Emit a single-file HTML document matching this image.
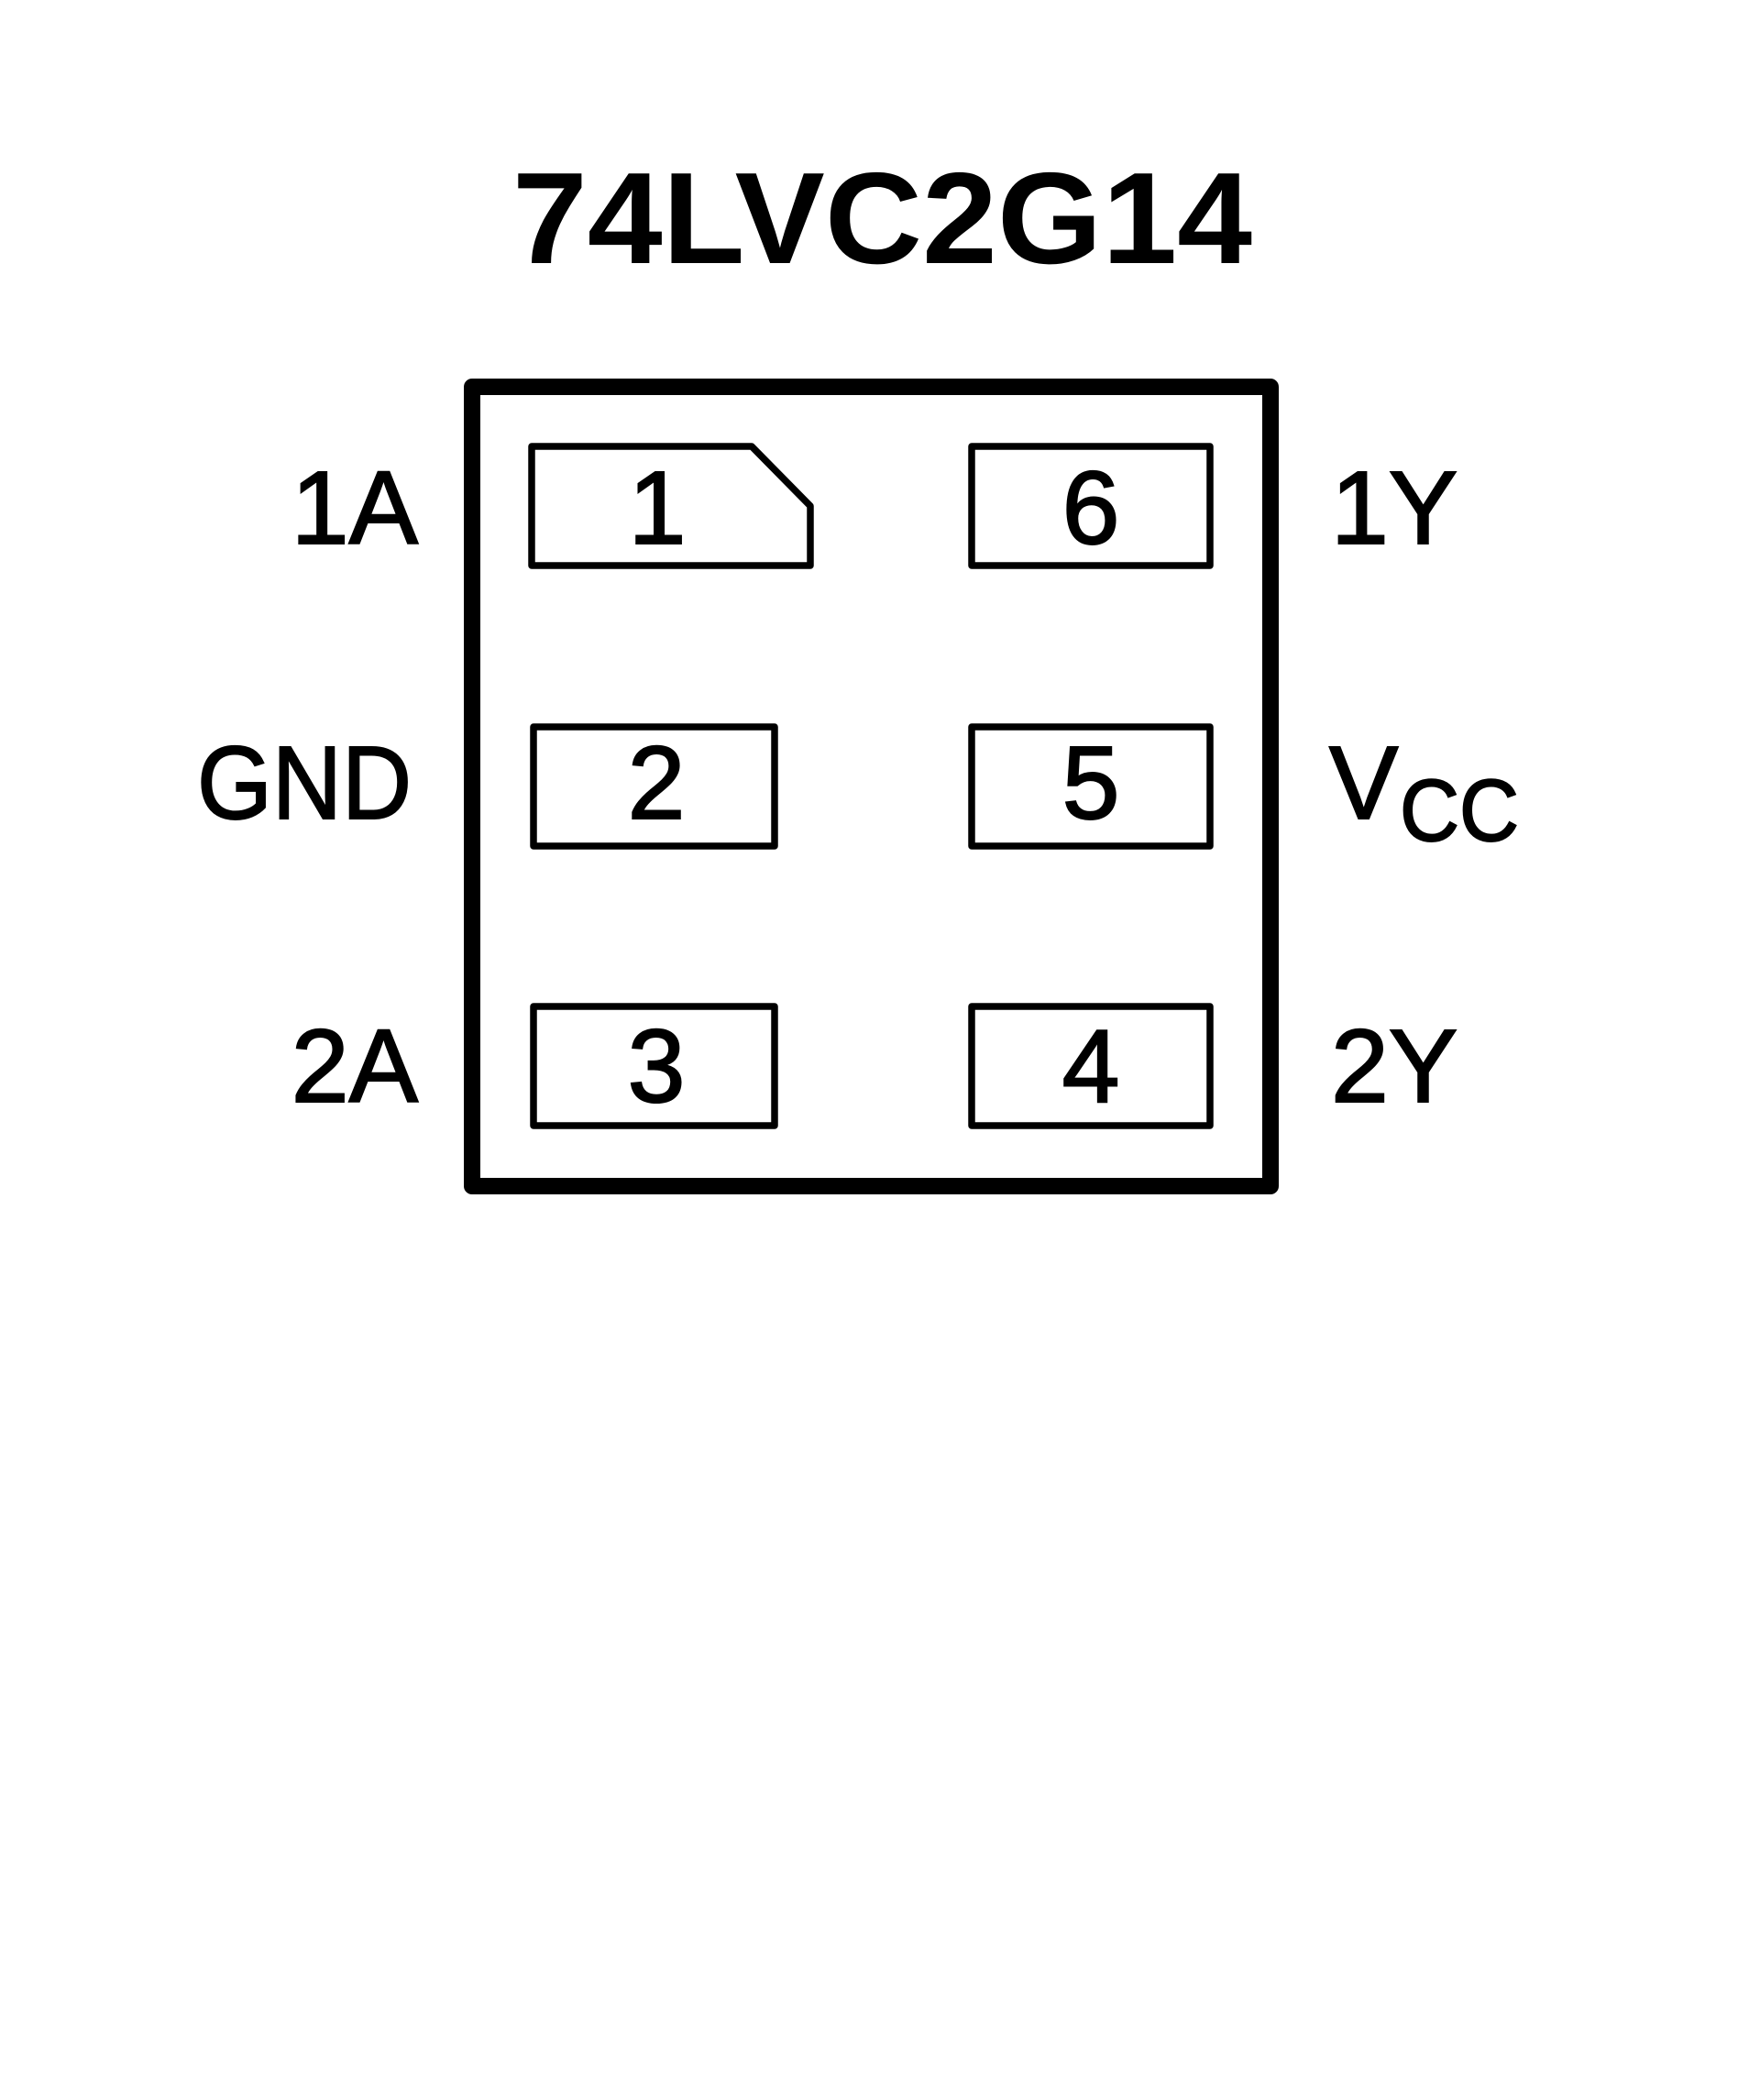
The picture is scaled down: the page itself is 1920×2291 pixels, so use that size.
<!DOCTYPE html>
<html><head><meta charset="utf-8"><style>
html,body{margin:0;padding:0;background:#fff;}
svg{display:block;}
text{font-family:"Liberation Sans",Arial,sans-serif;fill:#000;}
</style></head><body>
<svg width="1920" height="2291" viewBox="0 0 1920 2291" xmlns="http://www.w3.org/2000/svg">
<rect width="1920" height="2291" fill="#fff"/>
<text x="559" y="287" font-size="142" font-weight="bold" textLength="807" lengthAdjust="spacingAndGlyphs">74LVC2G14</text>
<rect x="515" y="422" width="871" height="872" fill="none" stroke="#000" stroke-width="18" stroke-linejoin="round"/>
<g fill="none" stroke="#000" stroke-width="7.5" stroke-linejoin="round">
<path d="M580 487 L820 487 L884 552 L884 617 L580 617 Z"/>
<rect x="1060" y="487" width="260" height="130"/>
<rect x="582" y="793" width="263" height="130"/>
<rect x="1060" y="793" width="260" height="130"/>
<rect x="582" y="1098" width="263" height="130"/>
<rect x="1060" y="1098" width="260" height="130"/>
</g>
<g font-size="113" text-anchor="middle" stroke="#000" stroke-width="2">
<text x="717" y="593">1</text>
<text x="1190" y="593">6</text>
<text x="716" y="893">2</text>
<text x="1190" y="893">5</text>
<text x="716" y="1202">3</text>
<text x="1190" y="1202">4</text>
</g>
<g font-size="113" text-anchor="end" stroke="#000" stroke-width="2">
<text x="456" y="593">1A</text>
<text x="449" y="893" textLength="234" lengthAdjust="spacingAndGlyphs">GND</text>
<text x="456" y="1202">2A</text>
</g>
<g font-size="113" stroke="#000" stroke-width="2">
<text x="1452" y="593">1Y</text>
<text x="1450" y="893">V</text>
<text x="1527" y="917" font-size="96" textLength="130" lengthAdjust="spacingAndGlyphs">CC</text>
<text x="1452" y="1202">2Y</text>
</g>
</svg>
</body></html>
